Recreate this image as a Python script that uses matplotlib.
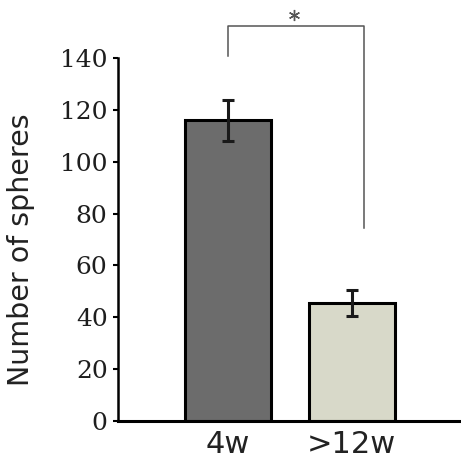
import matplotlib
matplotlib.use('Agg')
import matplotlib.pyplot as plt

# ---------------------------------------------------------------------------
# Data
# ---------------------------------------------------------------------------
groups = ['4w', '>12w']
means = [116, 45.5]
errors = [8, 5]
bar_colors = ['#6c6c6c', '#d8d9c9']
yticks = [0, 20, 40, 60, 80, 100, 120, 140]

# significance bracket (data coords)
sig_left_x, sig_right_x = 0.0, 1.1
sig_top = 152.6
sig_left_bottom, sig_right_bottom = 140.8, 74.4
sig_star_x, sig_star_y = 0.53, 156.7

# ---------------------------------------------------------------------------
# Figure
# ---------------------------------------------------------------------------
fig = plt.figure(figsize=(4.61, 4.68), dpi=100)
ax = fig.add_axes([0.256, 0.101, 0.744, 0.7744])

x = list(range(len(groups)))
ax.bar(x, means, width=0.69, color=bar_colors, edgecolor='black',
       linewidth=2.2, zorder=2)
ax.errorbar(x, means, yerr=errors, fmt='none', ecolor='#1a1a1a',
            elinewidth=2.2, capsize=4.5, capthick=2.2, zorder=3)

ax.set_xlim(-0.885, 1.88)
ax.set_ylim(0, 140)
ax.set_xticks(x)
ax.set_xticklabels(groups, fontsize=22, color='#222222')
ax.set_yticks(yticks)
ax.set_yticklabels([str(v) for v in yticks], fontsize=18,
                   family='DejaVu Serif', color='#1e1e1e')

ax.spines['top'].set_visible(False)
ax.spines['right'].set_visible(False)
ax.spines['left'].set_linewidth(1.8)
ax.spines['bottom'].set_linewidth(2.2)
ax.tick_params(axis='x', length=0, pad=7)
ax.tick_params(axis='y', length=3.5, width=1.5, direction='out', pad=4)

ax.set_ylabel('Number of spheres', fontsize=20.5, color='#222222')
ax.yaxis.set_label_coords(-0.242, 0.472)

# significance bracket
ax.plot([sig_left_x, sig_left_x, sig_right_x, sig_right_x],
        [sig_left_bottom, sig_top, sig_top, sig_right_bottom],
        color='#555555', linewidth=1.1, clip_on=False)
ax.plot([sig_star_x], [sig_star_y], marker=(6, 2, 0), markersize=8,
        markeredgewidth=1.0, color='#555555', clip_on=False)

fig.savefig('out.png', dpi=100)
